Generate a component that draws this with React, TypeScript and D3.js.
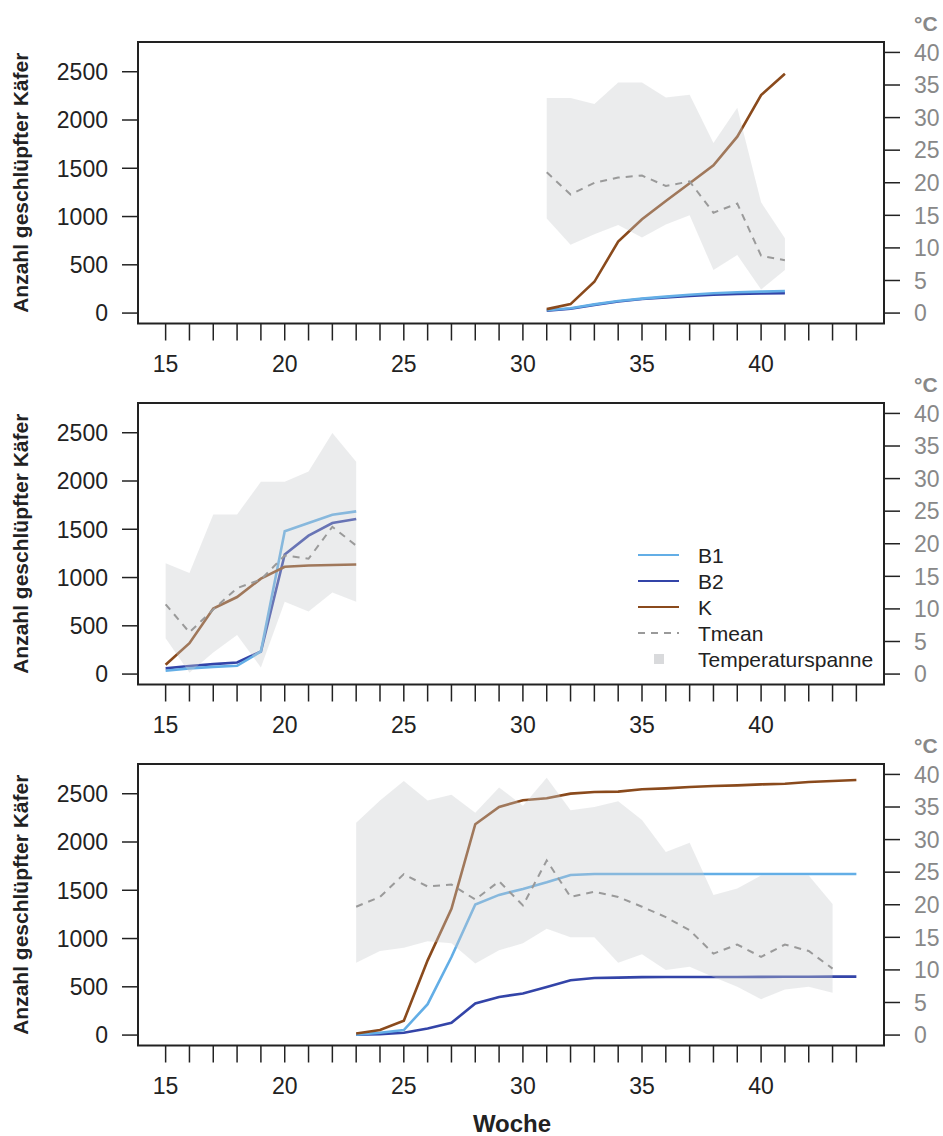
import * as d3 from "d3";

// weeks (x) and values per panel
const weeks1 = [31, 32, 33, 34, 35, 36, 37, 38, 39, 40, 41];
const b1_1 = [30, 50, 90, 125, 150, 170, 190, 205, 215, 222, 228];
const b2_1 = [25, 45, 85, 120, 145, 163, 178, 190, 198, 203, 207];
const k_1 = [41, 93, 324, 741, 972, 1161, 1344, 1530, 1827, 2258, 2479];
const tmean1 = [21.6, 18.2, 20.0, 20.8, 21.1, 19.5, 20.2, 15.4, 16.8, 8.8, 8.1];
const tmax1 = [33.0, 33.0, 32.1, 35.4, 35.4, 33.1, 33.5, 26.1, 31.5, 17.0, 11.5];
const tmin1 = [14.5, 10.5, 12.1, 13.5, 11.6, 13.6, 15.0, 6.6, 8.9, 3.6, 6.6];

const weeks2 = [15, 16, 17, 18, 19, 20, 21, 22, 23];
const b1_2 = [34, 59, 75, 86, 234, 1479, 1565, 1651, 1685];
const b2_2 = [59, 83, 103, 120, 234, 1238, 1434, 1565, 1607];
const k_2 = [96, 320, 678, 798, 988, 1111, 1125, 1130, 1135];
const tmean2 = [10.7, 6.4, 9.9, 13.2, 14.5, 18.2, 17.7, 22.6, 19.7];
const tmax2 = [17.0, 15.5, 24.5, 24.5, 29.5, 29.5, 31.1, 37.0, 32.6];
const tmin2 = [5.5, 0.2, 3.3, 6.0, 1.0, 11.1, 9.6, 12.5, 11.1];

const weeks3 = [23, 24, 25, 26, 27, 28, 29, 30, 31, 32, 33, 34, 35, 36, 37, 38, 39, 40, 41, 42, 43, 44];
const b1_3 = [5, 24, 52, 320, 809, 1352, 1452, 1514, 1582, 1658, 1668, 1668, 1668, 1668, 1668, 1668, 1668, 1668, 1668, 1668, 1668, 1668];
const b2_3 = [3, 10, 24, 69, 127, 327, 395, 430, 499, 568, 592, 595, 600, 601, 602, 602, 602, 603, 604, 604, 605, 605];
const k_3 = [17, 52, 148, 774, 1307, 2184, 2363, 2432, 2453, 2501, 2518, 2522, 2546, 2556, 2570, 2580, 2587, 2597, 2604, 2621, 2632, 2642];
const tmean3 = [19.7, 21.2, 24.7, 22.8, 23.1, 20.8, 23.6, 19.9, 26.8, 21.2, 22.0, 21.2, 19.7, 18.1, 16.1, 12.5, 13.9, 12.0, 13.9, 12.9, 10.2];
const tmax3 = [32.6, 36.0, 39.0, 36.0, 36.9, 34.1, 38.0, 35.2, 39.5, 34.5, 35.0, 35.9, 33.0, 28.1, 29.5, 21.5, 22.5, 24.5, 24.5, 24.5, 20.1];
const tmin3 = [11.1, 12.9, 13.4, 14.4, 14.1, 11.0, 13.0, 14.1, 16.3, 15.0, 15.0, 11.1, 12.4, 10.0, 10.5, 8.9, 7.4, 5.5, 7.0, 7.4, 6.5];

const countTicks = [0, 500, 1000, 1500, 2000, 2500];
const tempTicks = [0, 5, 10, 15, 20, 25, 30, 35, 40];
const weekTicks = d3.range(15, 45);
const weekLabels = [15, 20, 25, 30, 35, 40];
const legendLabels = ["B1", "B2", "K", "Tmean", "Temperaturspanne"];

const C_B1 = "#63aee6";
const C_B2 = "#3344a8";
const C_K = "#8a4a1c";
const C_T = "#9a9a9a";
const FONT = "'Liberation Sans', Arial, Helvetica, sans-serif";

const panels = [
  { weeks: weeks1, b1: b1_1, b2: b2_1, k: k_1, tmean: tmean1, tmax: tmax1, tmin: tmin1, legend: false },
  { weeks: weeks2, b1: b1_2, b2: b2_2, k: k_2, tmean: tmean2, tmax: tmax2, tmin: tmin2, legend: true },
  { weeks: weeks3, b1: b1_3, b2: b2_3, k: k_3, tmean: tmean3, tmax: tmax3, tmin: tmin3, legend: false },
];

const left = 138, right = 884;
const panelTop = 42, panelH = 281.5, step = 361;

const x = d3.scaleLinear([13.84, 45.16], [left, right]);

function Panel({ p, off }) {
  const top = panelTop + off;
  const bottom = top + panelH;
  const y = d3.scaleLinear([-108, 2808], [bottom, top]);
  const yt = d3.scaleLinear([-1.6, 41.6], [bottom, top]);
  const line = (vals) =>
    d3.line<number>((_, i) => x(p.weeks[i]), (d) => y(d))(vals);
  const tline = d3.line<number>((_, i) => x(p.weeks[i]), (d) => yt(d));
  const area = d3
    .area<number>()
    .x((_, i) => x(p.weeks[i]))
    .y0((_, i) => yt(p.tmin[i]))
    .y1((d) => yt(d));
  const midY = (top + bottom) / 2;
  return (
    <g>
      <path d={line(p.b2)} fill="none" stroke={C_B2} strokeWidth={2.6} />
      <path d={line(p.b1)} fill="none" stroke={C_B1} strokeWidth={2.6} />
      <path d={line(p.k)} fill="none" stroke={C_K} strokeWidth={2.6} />
      <path d={area(p.tmax)} fill="#c8cace" fillOpacity={0.36} />
      <path d={tline(p.tmean)} fill="none" stroke={C_T} strokeWidth={2} strokeDasharray="7,6" />
      <rect x={left} y={top} width={right - left} height={panelH} fill="none" stroke="#222" strokeWidth={2} />
      {/* left axis */}
      {countTicks.map((t) => (
        <g key={t}>
          <line x1={left - 16} x2={left} y1={y(t)} y2={y(t)} stroke="#222" strokeWidth={1.5} />
          <text x={left - 30} y={y(t)} dy="0.36em" textAnchor="end" fontSize={23} fill="#222">{t}</text>
        </g>
      ))}
      {/* right axis */}
      {tempTicks.map((t) => (
        <g key={t}>
          <line x1={right} x2={right + 16} y1={yt(t)} y2={yt(t)} stroke="#222" strokeWidth={1.5} />
          <text x={right + 30} y={yt(t)} dy="0.36em" textAnchor="start" fontSize={23} fill="#888">{t}</text>
        </g>
      ))}
      <text x={right + 30} y={top - 11} fontSize={21} fontWeight="bold" fill="#888">°C</text>
      {/* bottom axis */}
      {weekTicks.map((w) => (
        <line key={w} x1={x(w)} x2={x(w)} y1={bottom} y2={bottom + 17} stroke="#222" strokeWidth={1.5} />
      ))}
      {weekLabels.map((w) => (
        <text key={w} x={x(w)} y={bottom + 48} textAnchor="middle" fontSize={23} fill="#222">{w}</text>
      ))}
      <text
        transform={`translate(28,${midY}) rotate(-90)`}
        textAnchor="middle"
        fontSize={21}
        fontWeight="bold"
        fill="#222"
      >
        Anzahl geschlüpfter Käfer
      </text>
      {p.legend && (
        <g>
          {legendLabels.map((lab, i) => {
            const ly = top + 152 + i * 26;
            return (
              <g key={lab}>
                {i < 3 && (
                  <line x1={638} x2={679} y1={ly} y2={ly} stroke={[C_B1, C_B2, C_K][i]} strokeWidth={2} />
                )}
                {i === 3 && (
                  <line x1={638} x2={679} y1={ly} y2={ly} stroke={C_T} strokeWidth={2} strokeDasharray="7,6" />
                )}
                {i === 4 && <rect x={654} y={ly - 5} width={10} height={10} fill="#d9dadc" />}
                <text x={698} y={ly} dy="0.36em" fontSize={21} fill="#222">{lab}</text>
              </g>
            );
          })}
        </g>
      )}
    </g>
  );
}

export default function App() {
  return (
    <svg
      width={943}
      height={1136}
      style={{ position: "absolute", left: 0, top: 0, background: "#fff" }}
      fontFamily={FONT}
    >
      {panels.map((p, i) => (
        <Panel key={i} p={p} off={i * step} />
      ))}
      <text x={512} y={1132} textAnchor="middle" fontSize={24} fontWeight="bold" fill="#222">Woche</text>
    </svg>
  );
}
